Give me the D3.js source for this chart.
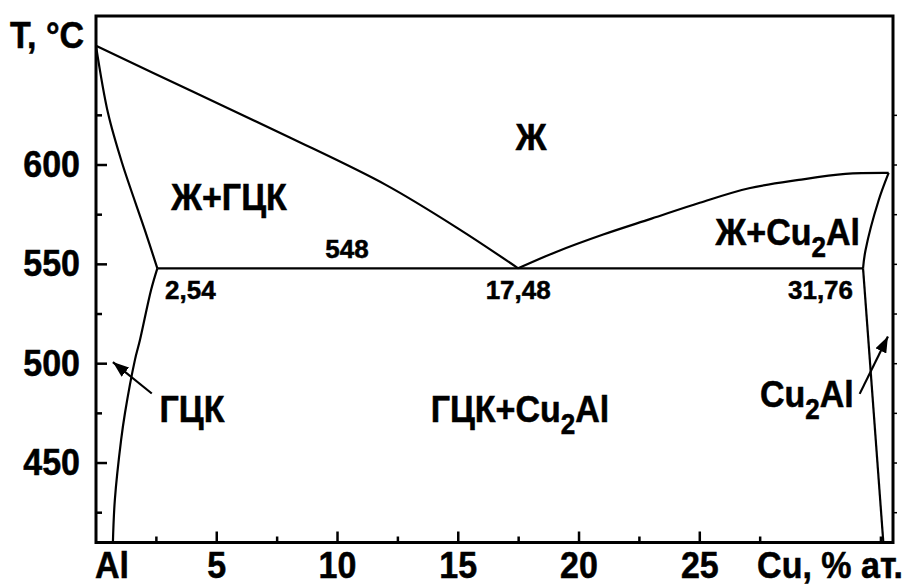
<!DOCTYPE html>
<html>
<head>
<meta charset="utf-8">
<script src="https://cdn.jsdelivr.net/npm/d3@7"></script>
<style>
  body { margin: 0; background: #fff; }
  text { font-family: "Liberation Sans", Arial, sans-serif; font-weight: bold; fill: #000; stroke: #000; stroke-width: 0.5px; }
</style>
</head>
<body>
<svg id="chart" width="908" height="584"></svg>
<script>
// Axis ticks and labels
const xMajorTicks = [5, 10, 15, 20, 25];
const xMinorTicks = [2.5, 7.5, 12.5, 17.5, 22.5, 27.5, 32.5];
const yMajorTicks = [450, 500, 550, 600];
const yMinorTicks = [425, 475, 525, 575, 625];
const xOriginLabel = "Al";
const xAxisTitle = "Cu, % ат.";
const yAxisTitle = "T, °C";

// Invariant points of the Al–Cu2Al section
const eutecticTemp = 548;
const eutecticPoints = [2.54, 17.48, 31.76];

// Phase boundaries, [Cu at.%, T °C]
const liquidusAl = [[0, 660], [4, 637], [8, 614], [12, 590], [15, 568], [17.48, 548]];
const solidusAl = [[0, 660], [0.5, 626], [1.08, 601], [2.03, 567], [2.54, 548]];
const solvusAl = [[2.54, 548], [2.28, 537.1], [1.82, 511.9], [1.61, 501.8], [1.2, 475.2], [1.04, 461.6], [0.78, 431.4], [0.7, 410]];
const liquidusCu2Al = [[17.48, 548], [19, 556], [21, 565], [23, 573], [25, 581], [27.04, 588.3], [29.1, 592.5], [31.03, 595.5], [32.82, 596]];
const solidusCu2Al = [[32.82, 596], [32.4, 582], [31.86, 557], [31.76, 548]];
const solvusCu2Al = [[31.76, 548], [32.6, 410]];

// Pointer arrows: [from, to]
const arrowFCC = [[2.31, 485], [0.70, 500.8]];
const arrowCu2Al = [[31.62, 484.8], [32.79, 513.7]];

const svg = d3.select("#chart");
const x = d3.scaleLinear().domain([0, 33]).range([96, 893]);
const y = d3.scaleLinear().domain([410, 675]).range([542.5, 16]);

const line = d3.line().x(d => x(d[0])).y(d => y(d[1]));
const smooth = d3.line().x(d => x(d[0])).y(d => y(d[1])).curve(d3.curveCatmullRom.alpha(0.5));

// Arrowhead marker
svg.append("defs").append("marker")
  .attr("id", "head").attr("markerUnits", "userSpaceOnUse")
  .attr("viewBox", "0 0 16 12").attr("refX", 16).attr("refY", 6)
  .attr("markerWidth", 16).attr("markerHeight", 12).attr("orient", "auto")
  .append("path").attr("d", "M0,0 L16,6 L0,12 Z").attr("fill", "#000");

// Frame
const [x0, x1] = x.range();
const [yb, yt] = y.range();
svg.append("rect").attr("x", x0).attr("y", yt).attr("width", x1 - x0).attr("height", yb - yt)
  .attr("fill", "none").attr("stroke", "#000").attr("stroke-width", 3);

// Inward ticks on bottom and left axes
const tickG = svg.append("g").attr("stroke", "#000").attr("stroke-width", 2.5);
xMajorTicks.forEach(t => tickG.append("line").attr("x1", x(t)).attr("x2", x(t)).attr("y1", yb).attr("y2", yb - 11));
xMinorTicks.forEach(t => tickG.append("line").attr("x1", x(t)).attr("x2", x(t)).attr("y1", yb).attr("y2", yb - 6));
yMajorTicks.forEach(t => tickG.append("line").attr("y1", y(t)).attr("y2", y(t)).attr("x1", x0).attr("x2", x0 + 11));
yMinorTicks.forEach(t => tickG.append("line").attr("y1", y(t)).attr("y2", y(t)).attr("x1", x0).attr("x2", x0 + 6));
// small outward ticks on the right edge
yMajorTicks.concat(yMinorTicks).forEach(t => tickG.append("line").attr("y1", y(t)).attr("y2", y(t)).attr("x1", x1).attr("x2", x1 + 4).attr("stroke-width", 1.5));

// Large bold text, slightly tall
const STRETCH = 1.1;
function bigText(px, py, anchor, str) {
  return svg.append("text").attr("transform", `translate(${px},${py}) scale(1,${STRETCH})`)
    .attr("text-anchor", anchor).attr("font-size", 34).text(str);
}

// Tick labels
xMajorTicks.forEach(t => bigText(x(t), 578, "middle", t));
bigText(x(0) + 16, 578, "middle", xOriginLabel);
bigText(903, 578, "end", xAxisTitle);
yMajorTicks.forEach(t => bigText(80, y(t) + 12, "end", t));
bigText(10, 48, "start", yAxisTitle);

// Phase boundaries
const curves = svg.append("g").attr("fill", "none").attr("stroke", "#000").attr("stroke-width", 2.2);
[liquidusAl, solidusAl, solvusAl, liquidusCu2Al, solidusCu2Al].forEach(c => curves.append("path").attr("d", smooth(c)));
curves.append("path").attr("d", line(solvusCu2Al));
curves.append("path").attr("d", line([[eutecticPoints[0], eutecticTemp], [eutecticPoints[2], eutecticTemp]]));

// Arrows
[arrowFCC, arrowCu2Al].forEach(a => svg.append("path").attr("d", line(a))
  .attr("stroke", "#000").attr("stroke-width", 2.2).attr("fill", "none").attr("marker-end", "url(#head)"));

// Phase-field labels (with optional subscript)
function phaseLabel(px, py, anchor, parts) {
  const t = bigText(px, py, anchor, null);
  parts.forEach(p => {
    if (p.sub) t.append("tspan").attr("dy", 11).attr("font-size", 26).text(p.sub);
    else t.append("tspan").attr("dy", p.up ? -11 : 0).text(p.txt);
  });
}
phaseLabel(531, 150, "middle", [{ txt: "Ж" }]);
phaseLabel(229, 210, "middle", [{ txt: "Ж+ГЦК" }]);
phaseLabel(860, 245, "end", [{ txt: "Ж+Cu" }, { sub: "2" }, { txt: "Al", up: true }]);
phaseLabel(192, 422, "middle", [{ txt: "ГЦК" }]);
phaseLabel(520, 422, "middle", [{ txt: "ГЦК+Cu" }, { sub: "2" }, { txt: "Al", up: true }]);
phaseLabel(760, 407, "start", [{ txt: "Cu" }, { sub: "2" }, { txt: "Al", up: true }]);

// Invariant values
const fmt = v => String(v).replace(".", ",");
function smallText(px, py, anchor, str) {
  svg.append("text").attr("x", px).attr("y", py).attr("text-anchor", anchor).attr("font-size", 26).text(str);
}
smallText(347, y(eutecticTemp) - 10, "middle", eutecticTemp);
smallText(x(eutecticPoints[0]) + 33, y(eutecticTemp) + 31, "middle", fmt(eutecticPoints[0]));
smallText(x(eutecticPoints[1]), y(eutecticTemp) + 31, "middle", fmt(eutecticPoints[1]));
smallText(x(eutecticPoints[2]) - 10, y(eutecticTemp) + 31, "end", fmt(eutecticPoints[2]));
</script>
</body>
</html>
